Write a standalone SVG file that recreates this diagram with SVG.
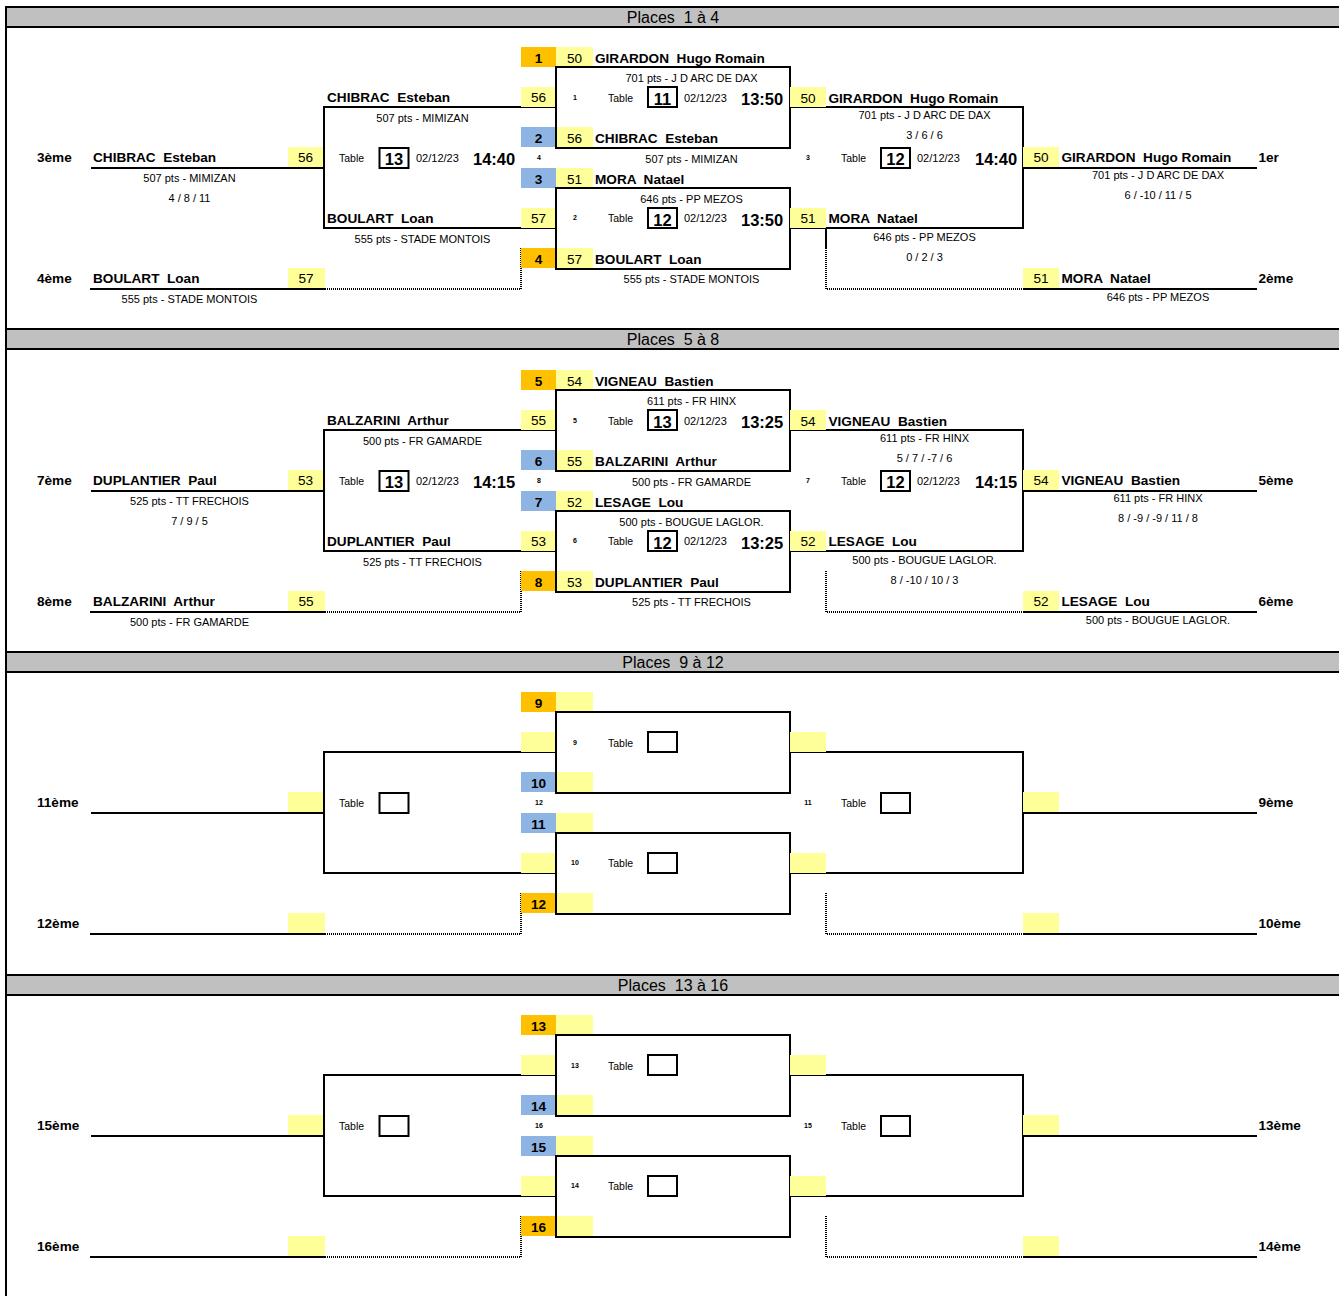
<svg xmlns="http://www.w3.org/2000/svg" width="1339" height="1296" viewBox="0 0 1339 1296">
<style>
text{font-family:"Liberation Sans",Arial,sans-serif;white-space:pre;fill:#000}
.ht{font-size:16px;text-anchor:middle}
.nm{font-size:13.6px;font-weight:bold}
.sd{font-size:13.6px;font-weight:bold;text-anchor:middle}
.yv{font-size:13.6px;text-anchor:middle}
.sm{font-size:11px;text-anchor:middle}
.tb{font-size:10.5px}
.dt{font-size:11px}
.tm{font-size:16.5px;font-weight:bold}
.bn{font-size:16.5px;font-weight:bold;text-anchor:middle}
.mn{font-size:7px;font-weight:bold;text-anchor:middle}
.ln{fill:none;stroke:#000;stroke-width:2}
.dot{fill:none;stroke:#000;stroke-width:2;stroke-dasharray:1 1}
.bx{fill:none;stroke:#000;stroke-width:2}
.y{fill:#FFFF99}.o{fill:#FFC000}.b{fill:#8DB4E2}
.hd{fill:#C0C0C0;stroke:#000;stroke-width:2}
</style>
<rect width="1339" height="1296" fill="#fff"/>
<g id="frame">
<line x1="6" y1="7" x2="6" y2="1296" stroke="#000" stroke-width="2"/>
</g>

<!-- ===== Section 1 ===== -->
<g id="section1">
<g id="s1-header"><rect class="hd" x="6" y="7" width="1340" height="20"/><text class="ht" x="673" y="23">Places  1 à 4</text></g>
<g id="s1-connectors">
<path class="ln" d="M91,168H324M90,289H325M556,107H324V228H556M790,107H1023V228H790M1023,168H1257M1023,289H1257M826,228V248"/>
<path class="dot" d="M325,289H521V248M826,248V289H1023"/>
</g>
<g id="s1-p3">
<rect class="y" x="288" y="147" width="35" height="20"/>
<text class="nm" x="37" y="162">3ème</text>
<text class="nm" x="93" y="162">CHIBRAC  Esteban</text>
<text class="yv" x="305.5" y="162">56</text>
<text class="sm" x="189.5" y="182">507 pts - MIMIZAN</text>
<text class="sm" x="189.5" y="202">4 / 8 / 11</text>
</g>
<g id="s1-p4">
<rect class="y" x="288" y="268" width="37" height="20"/>
<text class="nm" x="37" y="283">4ème</text>
<text class="nm" x="93" y="283">BOULART  Loan</text>
<text class="yv" x="306" y="283">57</text>
<text class="sm" x="189.5" y="303">555 pts - STADE MONTOIS</text>
</g>
<g id="s1-m4">
<rect class="y" x="521" y="87" width="35" height="20"/>
<rect class="y" x="521" y="208" width="35" height="20"/>
<text class="nm" x="327" y="102">CHIBRAC  Esteban</text>
<text class="yv" x="538.5" y="102">56</text>
<text class="sm" x="422.5" y="121.5">507 pts - MIMIZAN</text>
<text class="tb" x="339" y="162">Table</text>
<rect class="bx" x="379.5" y="148" width="29" height="20"/>
<text class="bn" x="394" y="164.5">13</text>
<text class="dt" x="416" y="162">02/12/23</text>
<text class="tm" x="473" y="164.5">14:40</text>
<text class="mn" x="539" y="160">4</text>
<text class="nm" x="327" y="223">BOULART  Loan</text>
<text class="yv" x="538.5" y="223">57</text>
<text class="sm" x="422.5" y="242.5">555 pts - STADE MONTOIS</text>
</g>
<g id="s1-m1">
<rect class="o" x="521" y="47" width="35" height="20"/>
<rect class="y" x="556" y="47" width="37" height="20"/>
<rect class="b" x="521" y="127" width="35" height="20"/>
<rect class="y" x="556" y="127" width="37" height="20"/>
<rect class="bx" x="556" y="67" width="234" height="81"/>
<text class="sd" x="538.5" y="62.5">1</text>
<text class="yv" x="574.5" y="62.5">50</text>
<text class="nm" x="595" y="62.5">GIRARDON  Hugo Romain</text>
<text class="sm" x="691.5" y="81.5">701 pts - J D ARC DE DAX</text>
<text class="mn" x="575" y="99.5">1</text>
<text class="tb" x="608" y="101.5">Table</text>
<rect class="bx" x="648" y="87" width="29" height="20"/>
<text class="bn" x="662.5" y="104.5">11</text>
<text class="dt" x="684" y="101.5">02/12/23</text>
<text class="tm" x="741" y="104.5">13:50</text>
<text class="sd" x="538.5" y="142.5">2</text>
<text class="yv" x="574.5" y="142.5">56</text>
<text class="nm" x="595" y="142.5">CHIBRAC  Esteban</text>
<text class="sm" x="691.5" y="162.5">507 pts - MIMIZAN</text>
</g>
<g id="s1-m2">
<rect class="b" x="521" y="168" width="35" height="20"/>
<rect class="y" x="556" y="168" width="37" height="20"/>
<rect class="o" x="521" y="248" width="35" height="20"/>
<rect class="y" x="556" y="248" width="37" height="20"/>
<rect class="bx" x="556" y="188" width="234" height="81"/>
<text class="sd" x="538.5" y="183.5">3</text>
<text class="yv" x="574.5" y="183.5">51</text>
<text class="nm" x="595" y="183.5">MORA  Natael</text>
<text class="sm" x="691.5" y="202.5">646 pts - PP MEZOS</text>
<text class="mn" x="575" y="220">2</text>
<text class="tb" x="608" y="222">Table</text>
<rect class="bx" x="648" y="208" width="29" height="20"/>
<text class="bn" x="662.5" y="225.5">12</text>
<text class="dt" x="684" y="222">02/12/23</text>
<text class="tm" x="741" y="225.5">13:50</text>
<text class="sd" x="538.5" y="264">4</text>
<text class="yv" x="574.5" y="264">57</text>
<text class="nm" x="595" y="264">BOULART  Loan</text>
<text class="sm" x="691.5" y="283">555 pts - STADE MONTOIS</text>
</g>
<g id="s1-m3">
<rect class="y" x="790" y="87" width="36" height="20"/>
<rect class="y" x="790" y="208" width="36" height="20"/>
<text class="yv" x="808" y="102.5">50</text>
<text class="nm" x="828.5" y="102.5">GIRARDON  Hugo Romain</text>
<text class="sm" x="924.5" y="119.3">701 pts - J D ARC DE DAX</text>
<text class="sm" x="924.5" y="139.3">3 / 6 / 6</text>
<text class="mn" x="808" y="160">3</text>
<text class="tb" x="841" y="162">Table</text>
<rect class="bx" x="881" y="148" width="29" height="20"/>
<text class="bn" x="895.5" y="164.5">12</text>
<text class="dt" x="917" y="162">02/12/23</text>
<text class="tm" x="975" y="164.5">14:40</text>
<text class="yv" x="808" y="223.3">51</text>
<text class="nm" x="828.5" y="223.3">MORA  Natael</text>
<text class="sm" x="924.5" y="240.7">646 pts - PP MEZOS</text>
<text class="sm" x="924.5" y="260.7">0 / 2 / 3</text>
</g>
<g id="s1-p1">
<rect class="y" x="1023" y="147" width="36" height="20"/>
<text class="yv" x="1041" y="162.3">50</text>
<text class="nm" x="1061.5" y="162.3">GIRARDON  Hugo Romain</text>
<text class="nm" x="1258.5" y="162.3">1er</text>
<text class="sm" x="1158" y="179.3">701 pts - J D ARC DE DAX</text>
<text class="sm" x="1158" y="199.3">6 / -10 / 11 / 5</text>
</g>
<g id="s1-p2">
<rect class="y" x="1023" y="268" width="36" height="20"/>
<text class="yv" x="1041" y="283.3">51</text>
<text class="nm" x="1061.5" y="283.3">MORA  Natael</text>
<text class="nm" x="1258.5" y="283.3">2ème</text>
<text class="sm" x="1158" y="300.7">646 pts - PP MEZOS</text>
</g>
</g>

<!-- ===== Section 2 ===== -->
<g id="section2" transform="translate(0,323)">
<g id="s2-header"><rect class="hd" x="6" y="6" width="1340" height="20"/><text class="ht" x="673" y="22">Places  5 à 8</text></g>
<g id="s2-connectors">
<path class="ln" d="M91,168H324M90,289H325M556,107H324V228H556M790,107H1023V228H790M1023,168H1257M1023,289H1257"/>
<path class="dot" d="M325,289H521V248M826,248V289H1023"/>
</g>
<g id="s2-p7">
<rect class="y" x="288" y="147" width="35" height="20"/>
<text class="nm" x="37" y="162">7ème</text>
<text class="nm" x="93" y="162">DUPLANTIER  Paul</text>
<text class="yv" x="305.5" y="162">53</text>
<text class="sm" x="189.5" y="182">525 pts - TT FRECHOIS</text>
<text class="sm" x="189.5" y="202">7 / 9 / 5</text>
</g>
<g id="s2-p8">
<rect class="y" x="288" y="268" width="37" height="20"/>
<text class="nm" x="37" y="283">8ème</text>
<text class="nm" x="93" y="283">BALZARINI  Arthur</text>
<text class="yv" x="306" y="283">55</text>
<text class="sm" x="189.5" y="303">500 pts - FR GAMARDE</text>
</g>
<g id="s2-m8">
<rect class="y" x="521" y="87" width="35" height="20"/>
<rect class="y" x="521" y="208" width="35" height="20"/>
<text class="nm" x="327" y="102">BALZARINI  Arthur</text>
<text class="yv" x="538.5" y="102">55</text>
<text class="sm" x="422.5" y="121.5">500 pts - FR GAMARDE</text>
<text class="tb" x="339" y="162">Table</text>
<rect class="bx" x="379.5" y="148" width="29" height="20"/>
<text class="bn" x="394" y="164.5">13</text>
<text class="dt" x="416" y="162">02/12/23</text>
<text class="tm" x="473" y="164.5">14:15</text>
<text class="mn" x="539" y="160">8</text>
<text class="nm" x="327" y="223">DUPLANTIER  Paul</text>
<text class="yv" x="538.5" y="223">53</text>
<text class="sm" x="422.5" y="242.5">525 pts - TT FRECHOIS</text>
</g>
<g id="s2-m5">
<rect class="o" x="521" y="47" width="35" height="20"/>
<rect class="y" x="556" y="47" width="37" height="20"/>
<rect class="b" x="521" y="127" width="35" height="20"/>
<rect class="y" x="556" y="127" width="37" height="20"/>
<rect class="bx" x="556" y="67" width="234" height="81"/>
<text class="sd" x="538.5" y="62.5">5</text>
<text class="yv" x="574.5" y="62.5">54</text>
<text class="nm" x="595" y="62.5">VIGNEAU  Bastien</text>
<text class="sm" x="691.5" y="81.5">611 pts - FR HINX</text>
<text class="mn" x="575" y="99.5">5</text>
<text class="tb" x="608" y="101.5">Table</text>
<rect class="bx" x="648" y="87" width="29" height="20"/>
<text class="bn" x="662.5" y="104.5">13</text>
<text class="dt" x="684" y="101.5">02/12/23</text>
<text class="tm" x="741" y="104.5">13:25</text>
<text class="sd" x="538.5" y="142.5">6</text>
<text class="yv" x="574.5" y="142.5">55</text>
<text class="nm" x="595" y="142.5">BALZARINI  Arthur</text>
<text class="sm" x="691.5" y="162.5">500 pts - FR GAMARDE</text>
</g>
<g id="s2-m6">
<rect class="b" x="521" y="168" width="35" height="20"/>
<rect class="y" x="556" y="168" width="37" height="20"/>
<rect class="o" x="521" y="248" width="35" height="20"/>
<rect class="y" x="556" y="248" width="37" height="20"/>
<rect class="bx" x="556" y="188" width="234" height="81"/>
<text class="sd" x="538.5" y="183.5">7</text>
<text class="yv" x="574.5" y="183.5">52</text>
<text class="nm" x="595" y="183.5">LESAGE  Lou</text>
<text class="sm" x="691.5" y="202.5">500 pts - BOUGUE LAGLOR.</text>
<text class="mn" x="575" y="220">6</text>
<text class="tb" x="608" y="222">Table</text>
<rect class="bx" x="648" y="208" width="29" height="20"/>
<text class="bn" x="662.5" y="225.5">12</text>
<text class="dt" x="684" y="222">02/12/23</text>
<text class="tm" x="741" y="225.5">13:25</text>
<text class="sd" x="538.5" y="264">8</text>
<text class="yv" x="574.5" y="264">53</text>
<text class="nm" x="595" y="264">DUPLANTIER  Paul</text>
<text class="sm" x="691.5" y="283">525 pts - TT FRECHOIS</text>
</g>
<g id="s2-m7">
<rect class="y" x="790" y="87" width="36" height="20"/>
<rect class="y" x="790" y="208" width="36" height="20"/>
<text class="yv" x="808" y="102.5">54</text>
<text class="nm" x="828.5" y="102.5">VIGNEAU  Bastien</text>
<text class="sm" x="924.5" y="119.3">611 pts - FR HINX</text>
<text class="sm" x="924.5" y="138.5">5 / 7 / -7 / 6</text>
<text class="mn" x="808" y="160">7</text>
<text class="tb" x="841" y="162">Table</text>
<rect class="bx" x="881" y="148" width="29" height="20"/>
<text class="bn" x="895.5" y="164.5">12</text>
<text class="dt" x="917" y="162">02/12/23</text>
<text class="tm" x="975" y="164.5">14:15</text>
<text class="yv" x="808" y="223.3">52</text>
<text class="nm" x="828.5" y="223.3">LESAGE  Lou</text>
<text class="sm" x="924.5" y="240.7">500 pts - BOUGUE LAGLOR.</text>
<text class="sm" x="924.5" y="260.7">8 / -10 / 10 / 3</text>
</g>
<g id="s2-p5">
<rect class="y" x="1023" y="147" width="36" height="20"/>
<text class="yv" x="1041" y="162.3">54</text>
<text class="nm" x="1061.5" y="162.3">VIGNEAU  Bastien</text>
<text class="nm" x="1258.5" y="162.3">5ème</text>
<text class="sm" x="1158" y="179.3">611 pts - FR HINX</text>
<text class="sm" x="1158" y="199.3">8 / -9 / -9 / 11 / 8</text>
</g>
<g id="s2-p6">
<rect class="y" x="1023" y="268" width="36" height="20"/>
<text class="yv" x="1041" y="283.3">52</text>
<text class="nm" x="1061.5" y="283.3">LESAGE  Lou</text>
<text class="nm" x="1258.5" y="283.3">6ème</text>
<text class="sm" x="1158" y="300.7">500 pts - BOUGUE LAGLOR.</text>
</g>
</g>

<!-- ===== Section 3 ===== -->
<g id="section3" transform="translate(0,645)">
<g id="s3-header"><rect class="hd" x="6" y="7" width="1340" height="20"/><text class="ht" x="673" y="23">Places  9 à 12</text></g>
<g id="s3-connectors">
<path class="ln" d="M91,168H324M90,289H325M556,107H324V228H556M790,107H1023V228H790M1023,168H1257M1023,289H1257"/>
<path class="dot" d="M325,289H521V248M826,248V289H1023"/>
</g>
<g id="s3-p11"><rect class="y" x="288" y="147" width="35" height="20"/><text class="nm" x="37" y="162">11ème</text></g>
<g id="s3-p12"><rect class="y" x="288" y="268" width="37" height="20"/><text class="nm" x="37" y="283">12ème</text></g>
<g id="s3-m12">
<rect class="y" x="521" y="87" width="35" height="20"/>
<rect class="y" x="521" y="208" width="35" height="20"/>
<text class="tb" x="339" y="162">Table</text>
<rect class="bx" x="379.5" y="148" width="29" height="20"/>
<text class="mn" x="539" y="160">12</text>
</g>
<g id="s3-m9">
<rect class="o" x="521" y="47" width="35" height="20"/>
<rect class="y" x="556" y="47" width="37" height="20"/>
<rect class="b" x="521" y="127" width="35" height="20"/>
<rect class="y" x="556" y="127" width="37" height="20"/>
<rect class="bx" x="556" y="67" width="234" height="81"/>
<text class="sd" x="538.5" y="62.5">9</text>
<text class="mn" x="575" y="99.5">9</text>
<text class="tb" x="608" y="101.5">Table</text>
<rect class="bx" x="648" y="87" width="29" height="20"/>
<text class="sd" x="538.5" y="142.5">10</text>
</g>
<g id="s3-m10">
<rect class="b" x="521" y="168" width="35" height="20"/>
<rect class="y" x="556" y="168" width="37" height="20"/>
<rect class="o" x="521" y="248" width="35" height="20"/>
<rect class="y" x="556" y="248" width="37" height="20"/>
<rect class="bx" x="556" y="188" width="234" height="81"/>
<text class="sd" x="538.5" y="183.5">11</text>
<text class="mn" x="575" y="220">10</text>
<text class="tb" x="608" y="222">Table</text>
<rect class="bx" x="648" y="208" width="29" height="20"/>
<text class="sd" x="538.5" y="264">12</text>
</g>
<g id="s3-m11">
<rect class="y" x="790" y="87" width="36" height="20"/>
<rect class="y" x="790" y="208" width="36" height="20"/>
<text class="mn" x="808" y="160">11</text>
<text class="tb" x="841" y="162">Table</text>
<rect class="bx" x="881" y="148" width="29" height="20"/>
</g>
<g id="s3-p9"><rect class="y" x="1023" y="147" width="36" height="20"/><text class="nm" x="1258.5" y="162.3">9ème</text></g>
<g id="s3-p10"><rect class="y" x="1023" y="268" width="36" height="20"/><text class="nm" x="1258.5" y="283.3">10ème</text></g>
</g>

<!-- ===== Section 4 ===== -->
<g id="section4" transform="translate(0,968)">
<g id="s4-header"><rect class="hd" x="6" y="7" width="1340" height="20"/><text class="ht" x="673" y="23">Places  13 à 16</text></g>
<g id="s4-connectors">
<path class="ln" d="M91,168H324M90,289H325M556,107H324V228H556M790,107H1023V228H790M1023,168H1257M1023,289H1257"/>
<path class="dot" d="M325,289H521V248M826,248V289H1023"/>
</g>
<g id="s4-p15"><rect class="y" x="288" y="147" width="35" height="20"/><text class="nm" x="37" y="162">15ème</text></g>
<g id="s4-p16"><rect class="y" x="288" y="268" width="37" height="20"/><text class="nm" x="37" y="283">16ème</text></g>
<g id="s4-m16">
<rect class="y" x="521" y="87" width="35" height="20"/>
<rect class="y" x="521" y="208" width="35" height="20"/>
<text class="tb" x="339" y="162">Table</text>
<rect class="bx" x="379.5" y="148" width="29" height="20"/>
<text class="mn" x="539" y="160">16</text>
</g>
<g id="s4-m13">
<rect class="o" x="521" y="47" width="35" height="20"/>
<rect class="y" x="556" y="47" width="37" height="20"/>
<rect class="b" x="521" y="127" width="35" height="20"/>
<rect class="y" x="556" y="127" width="37" height="20"/>
<rect class="bx" x="556" y="67" width="234" height="81"/>
<text class="sd" x="538.5" y="62.5">13</text>
<text class="mn" x="575" y="99.5">13</text>
<text class="tb" x="608" y="101.5">Table</text>
<rect class="bx" x="648" y="87" width="29" height="20"/>
<text class="sd" x="538.5" y="142.5">14</text>
</g>
<g id="s4-m14">
<rect class="b" x="521" y="168" width="35" height="20"/>
<rect class="y" x="556" y="168" width="37" height="20"/>
<rect class="o" x="521" y="248" width="35" height="20"/>
<rect class="y" x="556" y="248" width="37" height="20"/>
<rect class="bx" x="556" y="188" width="234" height="81"/>
<text class="sd" x="538.5" y="183.5">15</text>
<text class="mn" x="575" y="220">14</text>
<text class="tb" x="608" y="222">Table</text>
<rect class="bx" x="648" y="208" width="29" height="20"/>
<text class="sd" x="538.5" y="264">16</text>
</g>
<g id="s4-m15">
<rect class="y" x="790" y="87" width="36" height="20"/>
<rect class="y" x="790" y="208" width="36" height="20"/>
<text class="mn" x="808" y="160">15</text>
<text class="tb" x="841" y="162">Table</text>
<rect class="bx" x="881" y="148" width="29" height="20"/>
</g>
<g id="s4-p13"><rect class="y" x="1023" y="147" width="36" height="20"/><text class="nm" x="1258.5" y="162.3">13ème</text></g>
<g id="s4-p14"><rect class="y" x="1023" y="268" width="36" height="20"/><text class="nm" x="1258.5" y="283.3">14ème</text></g>
</g>
</svg>
